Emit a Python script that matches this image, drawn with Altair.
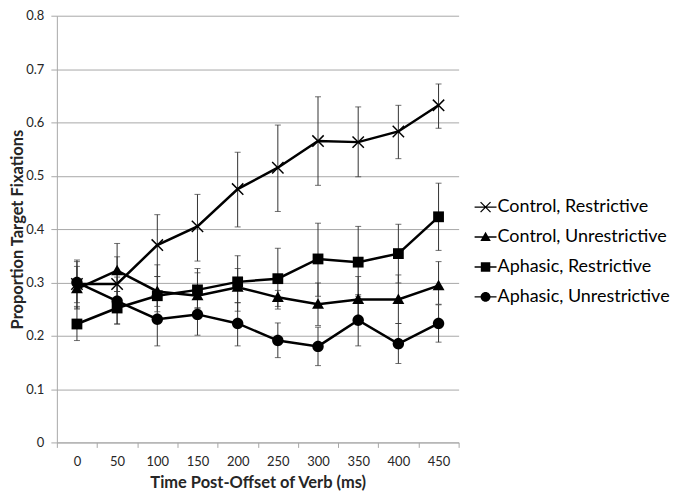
import altair as alt
import pandas as pd

times = ["0", "50", "100", "150", "200", "250", "300", "350", "400", "450"]
series = ["Control, Restrictive", "Control, Unrestrictive",
          "Aphasic, Restrictive", "Aphasic, Unrestrictive"]

cr_mean = [0.297, 0.297, 0.370, 0.405, 0.475, 0.515, 0.565, 0.563, 0.583, 0.632]
cr_lo = [0.252, 0.250, 0.311, 0.340, 0.404, 0.433, 0.482, 0.498, 0.532, 0.589]
cr_hi = [0.342, 0.348, 0.427, 0.465, 0.544, 0.595, 0.648, 0.629, 0.632, 0.672]

cu_mean = [0.288, 0.322, 0.283, 0.275, 0.291, 0.272, 0.259, 0.268, 0.268, 0.294]
cu_lo = [0.250, 0.283, 0.255, 0.252, 0.262, 0.250, 0.219, 0.225, 0.223, 0.259]
cu_hi = [0.330, 0.373, 0.311, 0.318, 0.326, 0.285, 0.299, 0.311, 0.314, 0.339]

ar_mean = [0.222, 0.252, 0.275, 0.286, 0.301, 0.307, 0.344, 0.338, 0.354, 0.423]
ar_lo = [0.191, 0.222, 0.245, 0.252, 0.246, 0.255, 0.274, 0.274, 0.299, 0.360]
ar_hi = [0.255, 0.283, 0.333, 0.326, 0.350, 0.364, 0.411, 0.405, 0.409, 0.486]

au_mean = [0.300, 0.265, 0.231, 0.240, 0.223, 0.191, 0.180, 0.229, 0.185, 0.223]
au_lo = [0.262, 0.222, 0.181, 0.201, 0.181, 0.159, 0.144, 0.181, 0.148, 0.188]
au_hi = [0.339, 0.310, 0.282, 0.280, 0.262, 0.224, 0.216, 0.277, 0.223, 0.258]

y_ticks = [0, 0.1, 0.2, 0.3, 0.4, 0.5, 0.6, 0.7, 0.8]

groups = [(cr_mean, cr_lo, cr_hi), (cu_mean, cu_lo, cu_hi),
          (ar_mean, ar_lo, ar_hi), (au_mean, au_lo, au_hi)]
rows = []
for name, (m, lo, hi) in zip(series, groups):
    for t, a, b, c in zip(times, m, lo, hi):
        rows.append({"t": t, "series": name, "mean": a, "lo": b, "hi": c})
df = pd.DataFrame(rows)

# marker shapes (unit square -1..1), all subpaths clockwise
X_PATH = ("M-0.91,-1.09L1.09,0.91L0.91,1.09L-1.09,-0.91Z"
          "M-0.91,1.09L-1.09,0.91L0.91,-1.09L1.09,-0.91Z")
TRI_PATH = "M0,-1.05L1.05,0.8L-1.05,0.8Z"
SQ_PATH = "M-0.95,-0.95H0.95V0.95H-0.95Z"
CIR_PATH = "M-1,0A1,1,0,1,1,1,0A1,1,0,1,1,-1,0Z"
BAR = "M-2.2,-0.14H2.2V0.14H-2.2Z"
marker_paths = [X_PATH, TRI_PATH, SQ_PATH, CIR_PATH]
legend_paths = [p + BAR for p in marker_paths]

GRID = "#a8a8a8"
TXT = "#262626"

yscale = alt.Scale(domain=[0, 0.8], nice=False, zero=True)
yaxis = alt.Axis(values=y_ticks, format=".1~f", title="Proportion Target Fixations",
                 grid=True, gridColor=GRID, domainColor=GRID, tickColor=GRID,
                 tickSize=6, labelPadding=7, labelFontSize=13, labelColor=TXT,
                 titleFontSize=16.5, titleFontWeight="bold", titleColor=TXT,
                 titlePadding=0)
xaxis = alt.Axis(title="Time Post-Offset of Verb (ms)", labelAngle=0, tickBand="extent",
                 grid=False, domainColor=GRID, tickColor=GRID, tickSize=5,
                 labelPadding=8, labelFontSize=13, labelColor=TXT,
                 titleFontSize=16.5, titleFontWeight="bold", titleColor=TXT,
                 titlePadding=6)
xenc = alt.X("t:N", sort=times,
             scale=alt.Scale(type="band", paddingInner=0, paddingOuter=0),
             axis=xaxis)


def ye(field):
    return alt.Y(f"{field}:Q", scale=yscale, axis=yaxis)


base = alt.Chart(df)
rules = base.mark_rule(color="#333333", strokeWidth=1).encode(
    x=xenc, y=ye("lo"), y2="hi:Q")
cap_lo = base.mark_tick(color="#333333", thickness=1, size=6).encode(x=xenc, y=ye("lo"))
cap_hi = base.mark_tick(color="#333333", thickness=1, size=6).encode(x=xenc, y=ye("hi"))
lines = base.mark_line(color="black", strokeWidth=2.5).encode(
    x=xenc, y=ye("mean"), detail="series:N")
points = base.mark_point(filled=True, color="black", opacity=1, size=130).encode(
    x=xenc, y=ye("mean"),
    shape=alt.Shape("series:N", scale=alt.Scale(domain=series, range=marker_paths),
                    legend=None))
legend_layer = alt.Chart(df).transform_filter("datum.mean < 0").mark_point(
    filled=True, color="black", opacity=1).encode(
    shape=alt.Shape("series:N", scale=alt.Scale(domain=series, range=legend_paths),
                    legend=alt.Legend(title=None, orient="none", legendX=421, legendY=183,
                                      labelFontSize=18, labelColor="#000000",
                                      labelLimit=400,
                                      symbolSize=100, labelOffset=3, rowPadding=12,
                                      padding=0, symbolStrokeWidth=0)))

chart = alt.layer(rules, cap_lo, cap_hi, lines, points, legend_layer).resolve_scale(
    shape="independent").properties(
    width=403, height=428,
    autosize=alt.AutoSizeParams(type="none"),
    padding={"left": 49, "top": 7, "right": 212, "bottom": 50},
).configure(font="Lato").configure_view(stroke=None)

chart.save("out.html", embed_options={"renderer": "svg", "actions": False})
